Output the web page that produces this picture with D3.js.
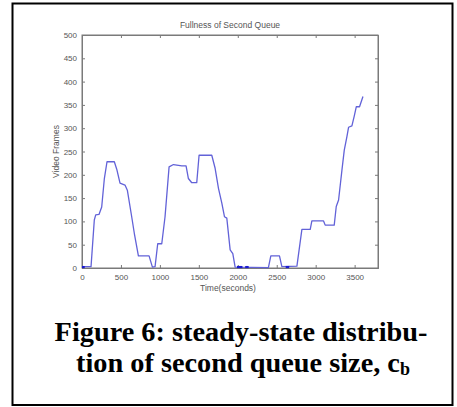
<!DOCTYPE html>
<html>
<head>
<meta charset="utf-8">
<script src="https://cdn.jsdelivr.net/npm/d3@7"></script>
<style>
  body { margin: 0; background: #fff; }
  svg { display: block; }
</style>
</head>
<body>
<div id="chart"></div>
<script>
// queue fullness over time (seconds, video frames)
var times = [0, 116, 158, 176, 218, 253, 287, 321, 415, 446, 488, 552, 582, 638, 672, 724, 861, 904, 938, 972, 1024, 1066, 1118, 1174, 1281, 1336, 1366, 1409, 1473, 1503, 1666, 1709, 1752, 1795, 1829, 1859, 1902, 1936, 1966, 2393, 2424, 2535, 2566, 2759, 2823, 2930, 2951, 3101, 3122, 3238, 3264, 3294, 3337, 3367, 3401, 3422, 3465, 3495, 3521, 3563, 3607];
var frames = [3, 3, 103, 114, 115, 131, 192, 228, 228, 212, 182, 178, 167, 110, 74, 26, 26, 2, 3, 52, 52, 110, 217, 222, 219, 219, 192, 183, 183, 242, 242, 214, 171, 139, 110, 107, 39, 31, 2, 1, 26, 26, 3, 4, 83, 83, 101, 101, 92, 92, 132, 146, 210, 253, 282, 302, 305, 326, 346, 346, 368];

// short empty-queue stretches drawn as darker marks
var emptyStart = [0, 1990, 2095, 2615];
var emptyEnd = [35, 2060, 2140, 2660];

var xTicks = [0, 500, 1000, 1500, 2000, 2500, 3000, 3500];
var yTicks = [0, 50, 100, 150, 200, 250, 300, 350, 400, 450, 500];

var width = 457, height = 407;
var margin = {left: 82, top: 35, right: 79, bottom: 139};

var svg = d3.select("#chart").append("svg")
    .attr("width", width)
    .attr("height", height);

// outer frame
svg.append("rect")
    .attr("x", 12.5).attr("y", 3.5)
    .attr("width", 440).attr("height", 401.5)
    .attr("fill", "none")
    .attr("stroke", "#000")
    .attr("stroke-width", 2);

var x = d3.scaleLinear().domain([0, 3800]).range([margin.left, width - margin.right]);
var y = d3.scaleLinear().domain([0, 500]).range([height - margin.bottom, margin.top]);

var axColor = "#7a7a7a";
var txtColor = "#555";

var g = svg.append("g");

// axes box
g.append("rect")
    .attr("x", x(0)).attr("y", y(500))
    .attr("width", x(3800) - x(0)).attr("height", y(0) - y(500))
    .attr("fill", "none").attr("stroke", axColor).attr("stroke-width", 1);

var xAxis = g.append("g")
    .attr("transform", "translate(0," + y(0) + ")")
    .call(d3.axisBottom(x).tickValues(xTicks).tickSize(-3).tickPadding(6).tickFormat(d3.format("d")));
var xTop = g.append("g")
    .attr("transform", "translate(0," + y(500) + ")")
    .call(d3.axisTop(x).tickValues(xTicks).tickSize(-3).tickFormat(""));
var yAxis = g.append("g")
    .attr("transform", "translate(" + x(0) + ",0)")
    .call(d3.axisLeft(y).tickValues(yTicks).tickSize(-3).tickPadding(5).tickFormat(d3.format("d")));
var yRight = g.append("g")
    .attr("transform", "translate(" + x(3800) + ",0)")
    .call(d3.axisRight(y).tickValues(yTicks).tickSize(-3).tickFormat(""));

[xAxis, xTop, yAxis, yRight].forEach(function (a) {
    a.select(".domain").attr("stroke", axColor);
    a.selectAll(".tick line").attr("stroke", axColor);
    a.selectAll(".tick text")
        .attr("fill", txtColor)
        .style("font-family", "Arial, 'Liberation Sans', sans-serif")
        .style("font-size", "8px");
});

// title and axis labels
svg.append("text")
    .attr("x", (x(0) + x(3800)) / 2).attr("y", 28)
    .attr("text-anchor", "middle")
    .attr("fill", txtColor)
    .style("font-family", "Arial, 'Liberation Sans', sans-serif")
    .style("font-size", "8.5px")
    .text("Fullness of Second Queue");

svg.append("text")
    .attr("x", 228).attr("y", 291)
    .attr("text-anchor", "middle")
    .attr("fill", txtColor)
    .style("font-family", "Arial, 'Liberation Sans', sans-serif")
    .style("font-size", "8.5px")
    .text("Time(seconds)");

svg.append("text")
    .attr("transform", "translate(59," + ((y(0) + y(500)) / 2) + ") rotate(-90)")
    .attr("text-anchor", "middle")
    .attr("fill", txtColor)
    .style("font-family", "Arial, 'Liberation Sans', sans-serif")
    .style("font-size", "8.5px")
    .text("Video Frames");

// the series
var pts = times.map(function (t, i) { return [t, frames[i]]; });
var line = d3.line().x(function (d) { return x(d[0]); }).y(function (d) { return y(d[1]); });

g.append("path")
    .datum(pts)
    .attr("d", line)
    .attr("fill", "none")
    .attr("stroke", "#6262d8")
    .attr("stroke-width", 1.3)
    .attr("stroke-linejoin", "round");

g.selectAll(".empty")
    .data(emptyStart)
    .enter()
    .append("line")
    .attr("class", "empty")
    .attr("x1", function (d) { return x(d); })
    .attr("x2", function (d, i) { return x(emptyEnd[i]); })
    .attr("y1", y(2)).attr("y2", y(2))
    .attr("stroke", "#1a1ad0")
    .attr("stroke-width", 2.2);

// caption
var cap = svg.append("text")
    .attr("text-anchor", "middle")
    .attr("fill", "#000")
    .style("font-family", "'Liberation Serif', 'Times New Roman', serif")
    .style("font-weight", "bold")
    .style("font-size", "28.3px");

cap.append("tspan")
    .attr("x", 241).attr("y", 341)
    .text("Figure 6: steady-state distribu-");
cap.append("tspan")
    .attr("x", 243).attr("y", 372)
    .text("tion of second queue size, c");
cap.append("tspan")
    .attr("dy", 3)
    .style("font-size", "18px")
    .text("b");
</script>
</body>
</html>
